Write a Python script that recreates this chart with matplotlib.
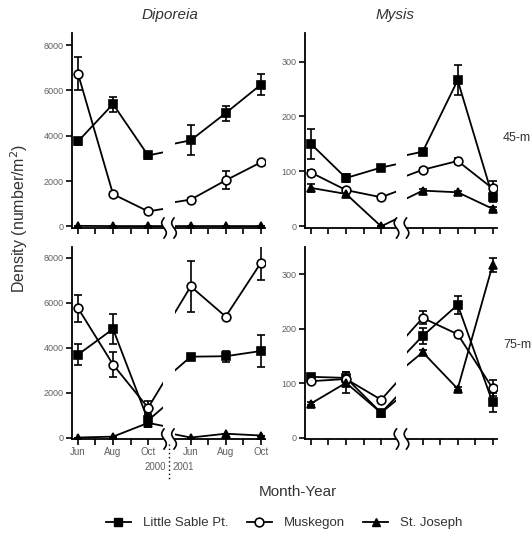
import numpy as np
import matplotlib.pyplot as plt
from matplotlib.lines import Line2D

plt.rcParams['font.family'] = ['Liberation Sans', 'DejaVu Sans']

# months: Jun, Aug, Oct 2000 then Jun, Aug, Oct 2001 (x has a hidden span at the break)
x_pos = [0, 2, 4, 8.2, 10.2, 12.2]
month_labels = ['Jun', 'Aug', 'Oct']

# Diporeia 45-m
dip45_ls = [3750, 5400, 3130, 3800, 5000, 6250]
dip45_ls_err = [150, 330, 170, 660, 330, 470]
dip45_mu = [6750, 1420, 660, 1180, 2030, 2820]
dip45_mu_err = [750, 80, 60, 80, 400, 100]
dip45_sj = [20, 10, 10, 10, 10, 10]
dip45_sj_err = [0, 0, 0, 0, 0, 0]

# Mysis 45-m
mys45_ls = [150, 88, 107, 136, 266, 54]
mys45_ls_err = [27, 7, 4, 4, 27, 10]
mys45_mu = [98, 66, 53, 103, 119, 69]
mys45_mu_err = [4, 4, 3, 4, 5, 14]
mys45_sj = [70, 59, 0, 65, 62, 32]
mys45_sj_err = [7, 3, 0, 3, 3, 3]

# Diporeia 75-m
dip75_ls = [3690, 4830, 770, 3600, 3620, 3850]
dip75_ls_err = [470, 680, 300, 100, 250, 700]
dip75_mu = [5760, 3250, 1330, 6720, 5380, 7750]
dip75_mu_err = [600, 550, 300, 1150, 80, 750]
dip75_sj = [10, 50, 660, 10, 180, 100]
dip75_sj_err = [0, 0, 0, 0, 0, 0]

# Mysis 75-m
mys75_ls = [112, 110, 46, 187, 244, 65]
mys75_ls_err = [5, 10, 3, 15, 17, 18]
mys75_mu = [104, 108, 70, 220, 190, 91]
mys75_mu_err = [3, 4, 3, 12, 5, 15]
mys75_sj = [63, 101, 46, 157, 90, 317]
mys75_sj_err = [3, 19, 3, 5, 3, 12]

W, H = 532, 535
fig = plt.figure(figsize=(W / 100, H / 100), dpi=100)

gray = '#606060'
dark = '#333333'


def px_axes(x0, x1, ytop, ybot):
    return fig.add_axes([x0 / W, 1 - ybot / H, (x1 - x0) / W, (ybot - ytop) / H])


def squiggle(xc, yc):
    t = np.linspace(-1, 1, 40)
    xs = xc + 2.3 * np.sin(t * np.pi)
    ys = yc + 10 * t
    fig.add_artist(Line2D(xs / W, 1 - ys / H, color='black', lw=1.2))


def panel(xs, ytop, ybot, ylim, yticks, series, xlabels):
    (l0, l1), (r0, r1) = xs
    axl = px_axes(l0, l1, ytop, ybot)
    axr = px_axes(r0, r1, ytop, ybot)
    for ax, xl, ticks in [(axl, (-0.34, 4.85), [0, 1, 2, 3, 4]),
                          (axr, (7.3, 12.45), [8.2, 9.2, 10.2, 11.2, 12.2])]:
        for y, err, mk, fc in series:
            ax.errorbar(x_pos, y, yerr=err, color='black', marker=mk, ms=6.3,
                        mfc=fc, mec='black', mew=1.2, lw=1.3, elinewidth=1.2,
                        capsize=3, capthick=1.2)
        ax.set_xlim(*xl)
        ax.set_ylim(*ylim)
        ax.set_xticks(ticks)
        ax.set_xticklabels([])
        for s in ['top', 'right']:
            ax.spines[s].set_visible(False)
        ax.spines['bottom'].set_linewidth(1.3)
        ax.spines['left'].set_linewidth(1.3)
        ax.tick_params(axis='x', length=4, width=1.2, direction='out')
        ax.patch.set_alpha(0)
    axl.set_yticks(yticks)
    axl.set_yticklabels([str(v) for v in yticks])
    axl.tick_params(axis='y', length=4, width=1.2, labelsize=6.5,
                    labelcolor=gray, pad=2)
    axr.spines['left'].set_visible(False)
    axr.set_yticks([])
    if xlabels:
        axl.set_xticks([0, 2, 4], minor=False)
        axl.set_xticks([1, 3], minor=True)
        axl.set_xticklabels(month_labels)
        axl.tick_params(axis='x', which='both', length=4, width=1.2,
                        labelsize=7, labelcolor=gray, pad=2)
        axr.set_xticks([8.2, 10.2, 12.2])
        axr.set_xticks([9.2, 11.2], minor=True)
        axr.set_xticklabels(month_labels)
        axr.tick_params(axis='x', which='both', length=4, width=1.2,
                        labelsize=7, labelcolor=gray, pad=2)
    squiggle((l1 + r0) / 2 - 5, ybot)
    squiggle((l1 + r0) / 2 + 5, ybot)
    return axl, axr


ls = ('s', 'black')
mu = ('o', 'white')
sj = ('^', 'black')

panel([(72, 163), (175, 265)], 33, 228, (-75, 8540), [0, 2000, 4000, 6000, 8000],
      [(dip45_ls, dip45_ls_err, *ls), (dip45_mu, dip45_mu_err, *mu),
       (dip45_sj, dip45_sj_err, *sj)], False)
panel([(305, 396), (407, 497)], 33, 228, (-3, 352), [0, 100, 200, 300],
      [(mys45_ls, mys45_ls_err, *ls), (mys45_mu, mys45_mu_err, *mu),
       (mys45_sj, mys45_sj_err, *sj)], False)
panel([(72, 163), (175, 265)], 247, 439, (-55, 8470), [0, 2000, 4000, 6000, 8000],
      [(dip75_ls, dip75_ls_err, *ls), (dip75_mu, dip75_mu_err, *mu),
       (dip75_sj, dip75_sj_err, *sj)], True)
panel([(305, 396), (407, 497)], 247, 439, (-2, 350), [0, 100, 200, 300],
      [(mys75_ls, mys75_ls_err, *ls), (mys75_mu, mys75_mu_err, *mu),
       (mys75_sj, mys75_sj_err, *sj)], False)

# titles and labels
fig.text(170 / W, 1 - 15 / H, 'Diporeia', style='italic', fontsize=11,
         color=dark, ha='center', va='center')
fig.text(395 / W, 1 - 15 / H, 'Mysis', style='italic', fontsize=11,
         color=dark, ha='center', va='center')
fig.text(503 / W, 1 - 138 / H, '45-m', fontsize=9, color=dark,
         ha='left', va='center')
fig.text(503 / W, 1 - 345 / H, '75-m', fontsize=9, color=dark,
         ha='left', va='center')
fig.text(19 / W, 1 - 218 / H, 'Density (number/m$^2$)', rotation=90,
         fontsize=11.5, color=dark, ha='center', va='center')
fig.text(298 / W, 1 - 492 / H, 'Month-Year', fontsize=11, color=dark,
         ha='center', va='center')

# year separator
fig.add_artist(Line2D([169 / W, 169 / W], [1 - 444 / H, 1 - 480 / H],
                      color='black', lw=1, ls=(0, (1, 2))))
fig.text(166 / W, 1 - 467 / H, '2000', fontsize=7, color=gray,
         ha='right', va='center')
fig.text(173 / W, 1 - 467 / H, '2001', fontsize=7, color=gray,
         ha='left', va='center')

handles = [Line2D([], [], color='black', marker='s', ms=6.3, mfc='black', lw=1.3),
           Line2D([], [], color='black', marker='o', ms=6.3, mfc='white', mew=1.2, lw=1.3),
           Line2D([], [], color='black', marker='^', ms=6.3, mfc='black', lw=1.3)]
fig.legend(handles, ['Little Sable Pt.', 'Muskegon', 'St. Joseph'], ncol=3,
           loc='center', bbox_to_anchor=(284 / W, 1 - 523 / H), frameon=False,
           fontsize=9.5, handlelength=1.9, columnspacing=1.4, handletextpad=0.9,
           labelcolor=dark)

fig.savefig('out.png', dpi=100)
